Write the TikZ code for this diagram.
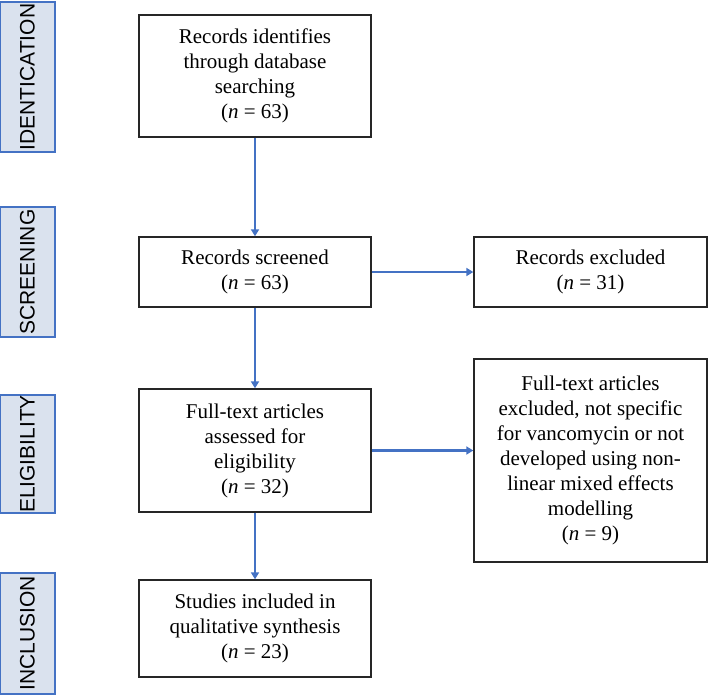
\documentclass[tikz,border=0pt]{standalone}
\usepackage{fontspec}
\setmainfont{Liberation Serif}
\newfontfamily\stagefont{Liberation Sans}
\usetikzlibrary{arrows.meta}

\definecolor{flowblue}{RGB}{68,114,196}
\definecolor{stagefill}{RGB}{218,226,238}

\begin{document}
\begin{tikzpicture}[x=1pt,y=-1pt,
    box/.style={draw=black!85, line width=1.4pt, align=center, inner sep=0pt,
        font=\fontsize{21}{25}\selectfont},
    stage/.style={draw=flowblue, line width=1.2pt, fill=stagefill, rotate=90,
        inner sep=0pt, minimum height=55, font=\stagefont\fontsize{21}{25}\selectfont},
    flow/.style={draw=flowblue, line width=2.2pt, -{Triangle[length=7pt,width=8pt]}}]

		\useasboundingbox (0,0) rectangle (709,696);
		
		%%%%%%%%%%%%%%%%%% stages on the left
		\node [stage, minimum width=150] (idn) at (27.5,77) {IDENTICATION};
		\node [stage, minimum width=130] (scr) at (27.5,272) {SCREENING};
		\node [stage, minimum width=118] (elg) at (27.5,454) {ELIGIBILITY};
		\node [stage, minimum width=121] (inc) at (27.5,633.5) {INCLUSION};
		
		%%%%%%%%%%%%%%%%%% boxes
		\node [box, minimum width=232, minimum height=122] (A) at (255,76)
			{Records identifies\\ through database\\ searching\\ (\textit{n} = 63)};
		\node [box, minimum width=232, minimum height=70] (B) at (255,272)
			{Records screened\\ (\textit{n} = 63)};
		\node [box, minimum width=233, minimum height=70] (C) at (590.5,272)
			{Records excluded\\ (\textit{n} = 31)};
		\node [box, minimum width=232, minimum height=123] (D) at (255,450.5)
			{Full-text articles\\ assessed for\\ eligibility\\ (\textit{n} = 32)};
		\node [box, minimum width=233, minimum height=203] (E) at (590.5,460.5)
			{Full-text articles\\ excluded, not specific\\ for vancomycin or not\\ developed using non-\\ linear mixed effects\\ modelling\\ (\textit{n} = 9)};
		\node [box, minimum width=232, minimum height=97] (F) at (255,628.5)
			{Studies included in\\ qualitative synthesis\\ (\textit{n} = 23)};
		
		\foreach \a/\b in {A/B,B/D,D/F}
			\draw [flow] (\a) -- (\b);
		
		\draw [flow] (B) -- (C);
		\draw [flow] (D.east) -- (D.east -| E.west);
		
\end{tikzpicture}
\end{document}
